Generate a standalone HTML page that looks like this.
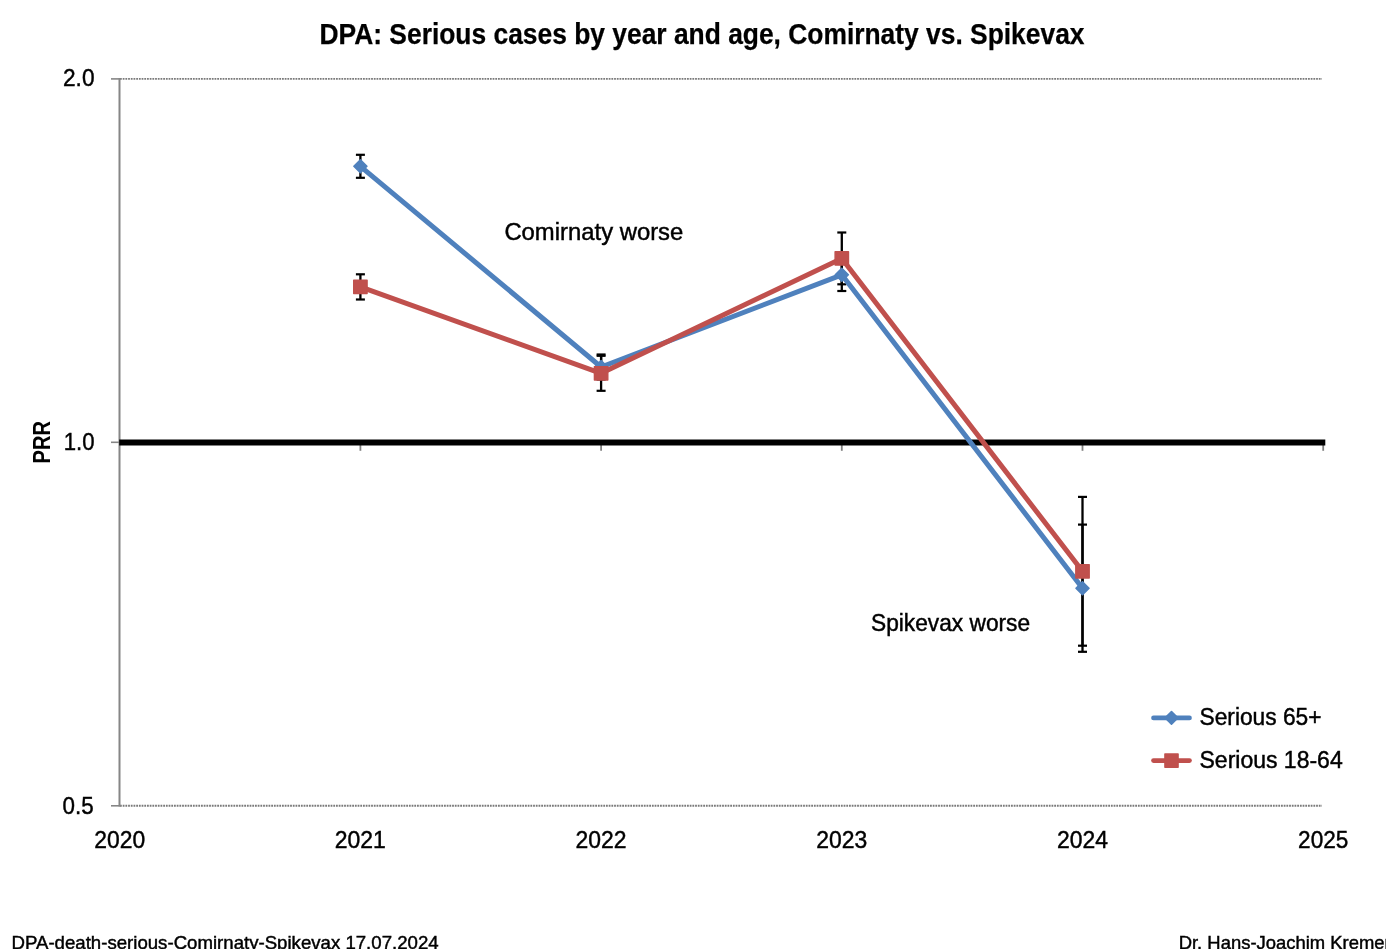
<!DOCTYPE html>
<html><head><meta charset="utf-8"><style>
html,body{margin:0;padding:0;background:#fff;width:1386px;height:949px;overflow:hidden;position:relative}
</style></head><body>
<svg width="1386" height="949" viewBox="0 0 1386 949" style="position:absolute;left:0;top:0;will-change:transform">
<rect x="0" y="0" width="1386" height="949" fill="#fff"/>
<line x1="120" y1="78.9" x2="1322" y2="78.9" stroke="#7a7a7a" stroke-width="1.9" stroke-dasharray="1.8 0.9"/>
<line x1="111" y1="78.9" x2="120.5" y2="78.9" stroke="#868686" stroke-width="1.6"/>
<line x1="120" y1="805.8" x2="1322" y2="805.8" stroke="#7a7a7a" stroke-width="1.9" stroke-dasharray="1.8 0.9"/>
<line x1="111" y1="805.8" x2="120.5" y2="805.8" stroke="#868686" stroke-width="1.6"/>
<line x1="119.5" y1="78.1" x2="119.5" y2="806.6" stroke="#868686" stroke-width="2"/>
<line x1="111" y1="442.3" x2="119" y2="442.3" stroke="#868686" stroke-width="1.6"/>
<line x1="360.4" y1="444" x2="360.4" y2="450.8" stroke="#808080" stroke-width="1.8"/>
<line x1="601.1" y1="444" x2="601.1" y2="450.8" stroke="#808080" stroke-width="1.8"/>
<line x1="841.8" y1="444" x2="841.8" y2="450.8" stroke="#808080" stroke-width="1.8"/>
<line x1="1082.5" y1="444" x2="1082.5" y2="450.8" stroke="#808080" stroke-width="1.8"/>
<line x1="1323.2" y1="444" x2="1323.2" y2="450.8" stroke="#808080" stroke-width="1.8"/>
<line x1="119.2" y1="442.6" x2="1325.3" y2="442.6" stroke="#000" stroke-width="6"/>
<line x1="360.4" y1="154.8" x2="360.4" y2="177.8" stroke="#000" stroke-width="2.3"/><line x1="355.9" y1="154.8" x2="364.9" y2="154.8" stroke="#000" stroke-width="2.2"/><line x1="355.9" y1="177.8" x2="364.9" y2="177.8" stroke="#000" stroke-width="2.2"/>
<line x1="601.1" y1="354.5" x2="601.1" y2="379.5" stroke="#000" stroke-width="2.3"/><line x1="596.6" y1="354.5" x2="605.6" y2="354.5" stroke="#000" stroke-width="2.2"/><line x1="596.6" y1="379.5" x2="605.6" y2="379.5" stroke="#000" stroke-width="2.2"/>
<line x1="841.8" y1="258.6" x2="841.8" y2="291.0" stroke="#000" stroke-width="2.3"/><line x1="837.3" y1="258.6" x2="846.3" y2="258.6" stroke="#000" stroke-width="2.2"/><line x1="837.3" y1="291.0" x2="846.3" y2="291.0" stroke="#000" stroke-width="2.2"/>
<line x1="1082.5" y1="524.6" x2="1082.5" y2="651.8" stroke="#000" stroke-width="2.3"/><line x1="1078.0" y1="524.6" x2="1087.0" y2="524.6" stroke="#000" stroke-width="2.2"/><line x1="1078.0" y1="651.8" x2="1087.0" y2="651.8" stroke="#000" stroke-width="2.2"/>
<line x1="360.4" y1="274.3" x2="360.4" y2="299.5" stroke="#000" stroke-width="2.3"/><line x1="355.9" y1="274.3" x2="364.9" y2="274.3" stroke="#000" stroke-width="2.2"/><line x1="355.9" y1="299.5" x2="364.9" y2="299.5" stroke="#000" stroke-width="2.2"/>
<line x1="601.1" y1="355.8" x2="601.1" y2="390.8" stroke="#000" stroke-width="2.3"/><line x1="596.6" y1="355.8" x2="605.6" y2="355.8" stroke="#000" stroke-width="2.2"/><line x1="596.6" y1="390.8" x2="605.6" y2="390.8" stroke="#000" stroke-width="2.2"/>
<line x1="841.8" y1="232.5" x2="841.8" y2="284.3" stroke="#000" stroke-width="2.3"/><line x1="837.3" y1="232.5" x2="846.3" y2="232.5" stroke="#000" stroke-width="2.2"/><line x1="837.3" y1="284.3" x2="846.3" y2="284.3" stroke="#000" stroke-width="2.2"/>
<line x1="1082.5" y1="496.9" x2="1082.5" y2="645.7" stroke="#000" stroke-width="2.3"/><line x1="1078.0" y1="496.9" x2="1087.0" y2="496.9" stroke="#000" stroke-width="2.2"/><line x1="1078.0" y1="645.7" x2="1087.0" y2="645.7" stroke="#000" stroke-width="2.2"/>
<polyline points="360.4,166.3 601.1,367.0 841.8,274.8 1082.5,588.2" fill="none" stroke="#4F81BD" stroke-width="5" stroke-linejoin="round" stroke-linecap="round"/>
<polygon points="360.4,159.8 366.9,166.3 360.4,172.8 353.9,166.3" fill="#4F81BD" stroke="#4F81BD" stroke-width="1.6" stroke-linejoin="round"/>
<polygon points="601.1,360.5 607.6,367.0 601.1,373.5 594.6,367.0" fill="#4F81BD" stroke="#4F81BD" stroke-width="1.6" stroke-linejoin="round"/>
<polygon points="841.8,268.3 848.3,274.8 841.8,281.3 835.3,274.8" fill="#4F81BD" stroke="#4F81BD" stroke-width="1.6" stroke-linejoin="round"/>
<polygon points="1082.5,581.7 1089.0,588.2 1082.5,594.7 1076.0,588.2" fill="#4F81BD" stroke="#4F81BD" stroke-width="1.6" stroke-linejoin="round"/>
<polyline points="360.4,286.9 601.1,373.3 841.8,258.4 1082.5,571.3" fill="none" stroke="#C0504D" stroke-width="5" stroke-linejoin="round" stroke-linecap="round"/>
<rect x="353.70" y="280.20" width="13.40" height="13.40" fill="#C0504D" stroke="#C0504D" stroke-width="1.4" stroke-linejoin="round"/>
<rect x="594.40" y="366.60" width="13.40" height="13.40" fill="#C0504D" stroke="#C0504D" stroke-width="1.4" stroke-linejoin="round"/>
<rect x="835.10" y="251.70" width="13.40" height="13.40" fill="#C0504D" stroke="#C0504D" stroke-width="1.4" stroke-linejoin="round"/>
<rect x="1075.80" y="564.60" width="13.40" height="13.40" fill="#C0504D" stroke="#C0504D" stroke-width="1.4" stroke-linejoin="round"/>
<line x1="1153.5" y1="717.9" x2="1189.5" y2="717.9" stroke="#4F81BD" stroke-width="4.7" stroke-linecap="round"/>
<polygon points="1171.5,711.6 1177.8,717.9 1171.5,724.2 1165.2,717.9" fill="#4F81BD" stroke="#4F81BD" stroke-width="1.6" stroke-linejoin="round"/>
<line x1="1153.5" y1="760.6" x2="1189.5" y2="760.6" stroke="#C0504D" stroke-width="4.7" stroke-linecap="round"/>
<rect x="1164.90" y="754.00" width="13.20" height="13.20" fill="#C0504D" stroke="#C0504D" stroke-width="1.4" stroke-linejoin="round"/>
<text x="319.5" y="44.2" font-family="Liberation Sans, sans-serif" font-size="29" font-weight="bold" textLength="765" lengthAdjust="spacingAndGlyphs" fill="#000" stroke="#000" stroke-width="0.25" >DPA: Serious cases by year and age, Comirnaty vs. Spikevax</text>
<text x="63.0" y="85.8" font-family="Liberation Sans, sans-serif" font-size="24.4" textLength="31.5" lengthAdjust="spacingAndGlyphs" fill="#000" stroke="#000" stroke-width="0.45" >2.0</text>
<text x="63.8" y="449.8" font-family="Liberation Sans, sans-serif" font-size="24.4" textLength="30.8" lengthAdjust="spacingAndGlyphs" fill="#000" stroke="#000" stroke-width="0.45" >1.0</text>
<text x="62.6" y="813.6" font-family="Liberation Sans, sans-serif" font-size="24.4" textLength="31.1" lengthAdjust="spacingAndGlyphs" fill="#000" stroke="#000" stroke-width="0.45" >0.5</text>
<text x="94.3" y="848" font-family="Liberation Sans, sans-serif" font-size="24.4" textLength="50.8" lengthAdjust="spacingAndGlyphs" fill="#000" stroke="#000" stroke-width="0.45" >2020</text>
<text x="334.8" y="848" font-family="Liberation Sans, sans-serif" font-size="24.4" textLength="51.1" lengthAdjust="spacingAndGlyphs" fill="#000" stroke="#000" stroke-width="0.45" >2021</text>
<text x="575.6" y="848" font-family="Liberation Sans, sans-serif" font-size="24.4" textLength="51" lengthAdjust="spacingAndGlyphs" fill="#000" stroke="#000" stroke-width="0.45" >2022</text>
<text x="816.3" y="848" font-family="Liberation Sans, sans-serif" font-size="24.4" textLength="51" lengthAdjust="spacingAndGlyphs" fill="#000" stroke="#000" stroke-width="0.45" >2023</text>
<text x="1057.0" y="848" font-family="Liberation Sans, sans-serif" font-size="24.4" textLength="51" lengthAdjust="spacingAndGlyphs" fill="#000" stroke="#000" stroke-width="0.45" >2024</text>
<text x="1298.1" y="848" font-family="Liberation Sans, sans-serif" font-size="24.4" textLength="50.2" lengthAdjust="spacingAndGlyphs" fill="#000" stroke="#000" stroke-width="0.45" >2025</text>
<text transform="translate(49.9,463.4) rotate(-90)" font-family="Liberation Sans, sans-serif" font-size="24.4" font-weight="bold" textLength="42.5" lengthAdjust="spacingAndGlyphs" fill="#000">PRR</text>
<text x="504.4" y="239.6" font-family="Liberation Sans, sans-serif" font-size="24.4" textLength="178.9" lengthAdjust="spacingAndGlyphs" fill="#000" stroke="#000" stroke-width="0.45" >Comirnaty worse</text>
<text x="871" y="630.5" font-family="Liberation Sans, sans-serif" font-size="24.4" textLength="159.1" lengthAdjust="spacingAndGlyphs" fill="#000" stroke="#000" stroke-width="0.45" >Spikevax worse</text>
<text x="1199.5" y="725" font-family="Liberation Sans, sans-serif" font-size="24.4" textLength="122" lengthAdjust="spacingAndGlyphs" fill="#000" stroke="#000" stroke-width="0.45" >Serious 65+</text>
<text x="1199.5" y="767.9" font-family="Liberation Sans, sans-serif" font-size="24.4" textLength="143.2" lengthAdjust="spacingAndGlyphs" fill="#000" stroke="#000" stroke-width="0.45" >Serious 18-64</text>
<text x="11.5" y="948.5" font-family="Liberation Sans, sans-serif" font-size="19" textLength="427.1" lengthAdjust="spacingAndGlyphs" fill="#000" stroke="#000" stroke-width="0.45" >DPA-death-serious-Comirnaty-Spikevax 17.07.2024</text>
<text x="1178.7" y="948.5" font-family="Liberation Sans, sans-serif" font-size="19" textLength="212" lengthAdjust="spacingAndGlyphs" fill="#000" stroke="#000" stroke-width="0.45" >Dr. Hans-Joachim Kremer</text>
</svg>
</body></html>
